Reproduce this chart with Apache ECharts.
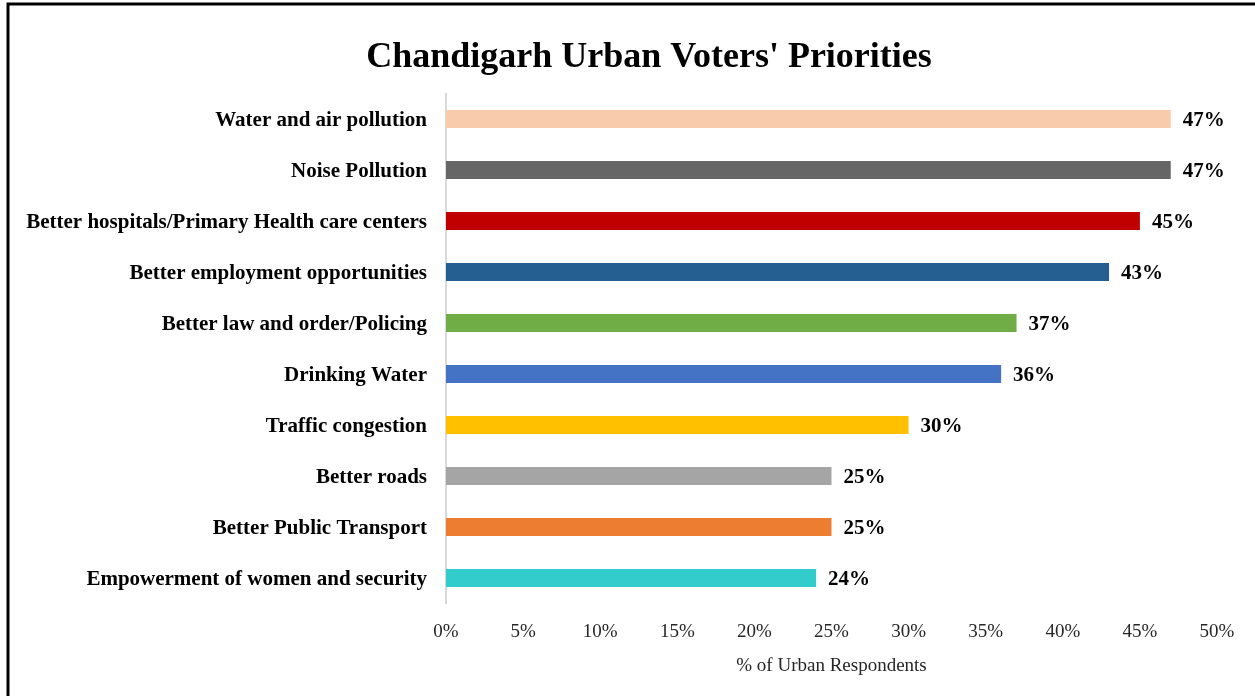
<!DOCTYPE html>
<html>
<head>
<meta charset="utf-8">
<script src="https://cdn.jsdelivr.net/npm/echarts@6/dist/echarts.min.js"></script>
<style>
  html, body { margin: 0; padding: 0; background: #fff; }
  #chart { width: 1255px; height: 696px; }
</style>
</head>
<body>
<div id="chart"></div>
<script>
// Priorities, listed top to bottom
const categories = [
  'Water and air pollution',
  'Noise Pollution',
  'Better hospitals/Primary Health care centers',
  'Better employment opportunities',
  'Better law and order/Policing',
  'Drinking Water',
  'Traffic congestion',
  'Better roads',
  'Better Public Transport',
  'Empowerment of women and security'
];
// Share of urban respondents (%)
const values = [47, 47, 45, 43, 37, 36, 30, 25, 25, 24];
const barColors = [
  '#F8CBAD', '#666666', '#C00000', '#255E91', '#70AD47',
  '#4472C4', '#FFC000', '#A5A5A5', '#ED7D31', '#33CCCC'
];
const xTicks = { min: 0, max: 50, step: 5 };

const serif = '"Liberation Serif", "Times New Roman", serif';
const boldText = { fontFamily: serif, fontWeight: 'bold', fontSize: 21, color: '#000', padding: [4, 0, 0, 0] };

const chart = echarts.init(document.getElementById('chart'), null, { renderer: 'canvas' });

chart.setOption({
  backgroundColor: '#ffffff',
  animation: false,
  title: {
    text: "Chandigarh Urban Voters' Priorities",
    left: 644,
    top: 35,
    textAlign: 'center',
    textStyle: { fontFamily: serif, fontWeight: 'bold', fontSize: 36, color: '#000' }
  },
  graphic: [{
    type: 'rect',
    shape: { x: 8, y: 4, width: 1400, height: 800 },
    style: { fill: 'none', stroke: '#000', lineWidth: 3 },
    silent: true
  }],
  grid: { left: 446, right: 38, top: 93.5, bottom: 92.5, containLabel: false },
  xAxis: {
    type: 'value',
    min: xTicks.min,
    max: xTicks.max,
    interval: xTicks.step,
    axisLine: { show: false },
    axisTick: { show: false },
    splitLine: { show: false },
    axisLabel: {
      formatter: '{value}%',
      fontFamily: serif, fontSize: 19, color: '#262626', margin: 19
    },
    name: '% of Urban Respondents',
    nameLocation: 'middle',
    nameGap: 53,
    nameTextStyle: { fontFamily: serif, fontSize: 19, color: '#262626' }
  },
  yAxis: {
    type: 'category',
    data: categories,
    inverse: true,
    axisLine: { show: true, lineStyle: { color: '#D9D9D9', width: 2 } },
    axisTick: { show: false },
    axisLabel: {
      margin: 19,
      formatter: v => '{b|' + v + '}',
      rich: { b: boldText }
    }
  },
  series: [{
    type: 'bar',
    data: values.map((v, i) => ({ value: v, itemStyle: { color: barColors[i] } })),
    barWidth: 18,
    label: {
      show: true,
      position: 'right',
      distance: 12,
      formatter: '{b|{c}%}',
      rich: { b: boldText }
    }
  }]
});
</script>
</body>
</html>
